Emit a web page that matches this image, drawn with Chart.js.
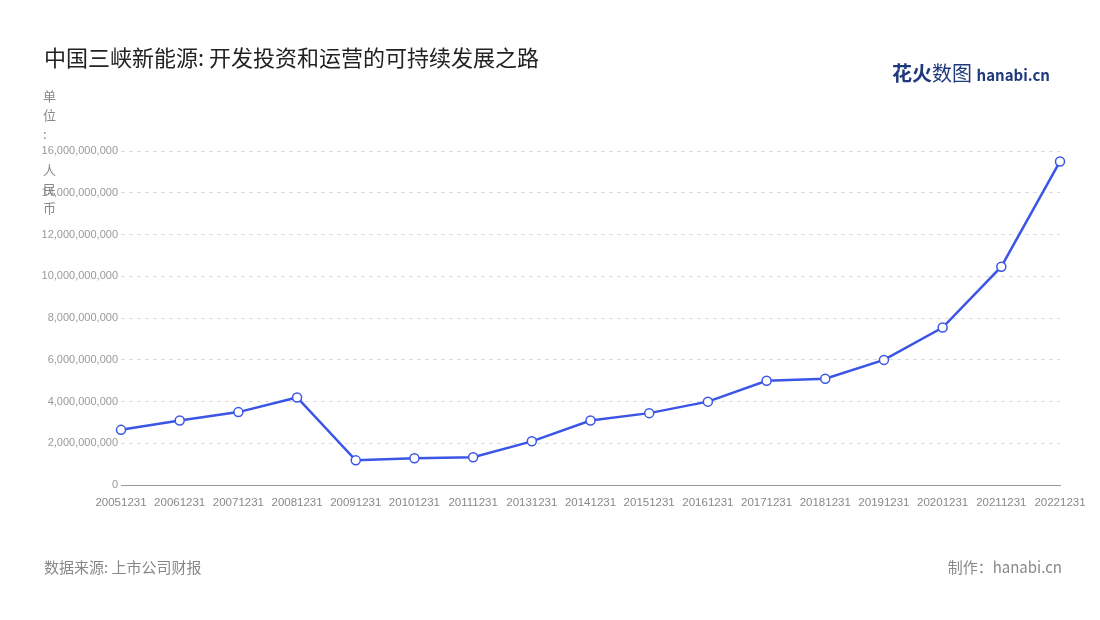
<!DOCTYPE html>
<html>
<head>
<meta charset="utf-8">
<script src="https://cdn.jsdelivr.net/npm/chart.js@4"></script>
<style>
body { margin:0; background:#fff; font-family:"Noto Sans CJK SC","Noto Sans",sans-serif; }
#wrap { position:relative; width:1100px; height:620px; }
#c { position:absolute; left:0; top:0; }
.t { position:absolute; white-space:nowrap; }
</style>
</head>
<body>
<div id="wrap">
  <canvas id="c" width="1100" height="620"></canvas>
  <div class="t" style="left:44px;top:40px;font-size:22px;color:#222;">中国三峡新能源: 开发投资和运营的可持续发展之路</div>
  <div class="t" style="left:892px;top:58px;font-size:20px;font-weight:bold;color:#1f3a7a;">花火<span style="font-weight:normal">数图</span> <span style="font-size:15px;">hanabi.cn</span></div>
  <div class="t" style="left:43px;top:86px;font-size:13px;color:#888;line-height:19px;">单<br>位<br>:</div>
  <div class="t" style="left:43px;top:160px;font-size:13px;color:#888;line-height:19px;">人<br>民<br>币</div>
  <div class="t" style="left:44px;top:556px;font-size:15px;color:#888;">数据来源: 上市公司财报</div>
  <div class="t" style="right:38px;top:556px;font-size:15px;color:#888;">制作：hanabi.cn</div>
</div>
<script>
// data
let years = ["20051231","20061231","20071231","20081231","20091231","20101231","20111231","20131231","20141231","20151231","20161231","20171231","20181231","20191231","20201231","20211231","20221231"];
let invest = [2.65e9, 3.1e9, 3.5e9, 4.2e9, 1.19e9, 1.29e9, 1.34e9, 2.1e9, 3.1e9, 3.45e9, 4.0e9, 5.0e9, 5.1e9, 6.0e9, 7.55e9, 10.46e9, 15.5e9];

new Chart(document.getElementById("c"), {
  type: "line",
  data: {
    labels: years,
    datasets: [{
      data: invest,
      borderColor: "#3b55e6",
      borderWidth: 2.5,
      tension: 0,
      pointRadius: 4.5,
      pointBackgroundColor: "#fff",
      pointBorderColor: "#3b55e6",
      pointBorderWidth: 1.5
    }]
  },
  options: {
    responsive: false,
    animation: false,
    layout: { padding: { left: 28, right: 40, top: 151, bottom: 107 } },
    plugins: { legend: { display: false }, tooltip: { enabled: false } },
    scales: {
      x: {
        offset: false,
        grid: { display: false },
        border: { color: "#999" },
        ticks: { color: "#888", font: { size: 11.5 }, maxRotation: 0, autoSkip: false }
      },
      y: {
        min: 0, max: 16e9,
        ticks: { stepSize: 2e9, color: "#999", font: { size: 11 },
          callback: v => v.toLocaleString("en-US") },
        grid: { color: "#ddd", drawTicks: false },
        border: { display: false, dash: [4, 4] },
        afterFit: s => { s.width = 93; }
      }
    }
  }
});
</script>
</body>
</html>
